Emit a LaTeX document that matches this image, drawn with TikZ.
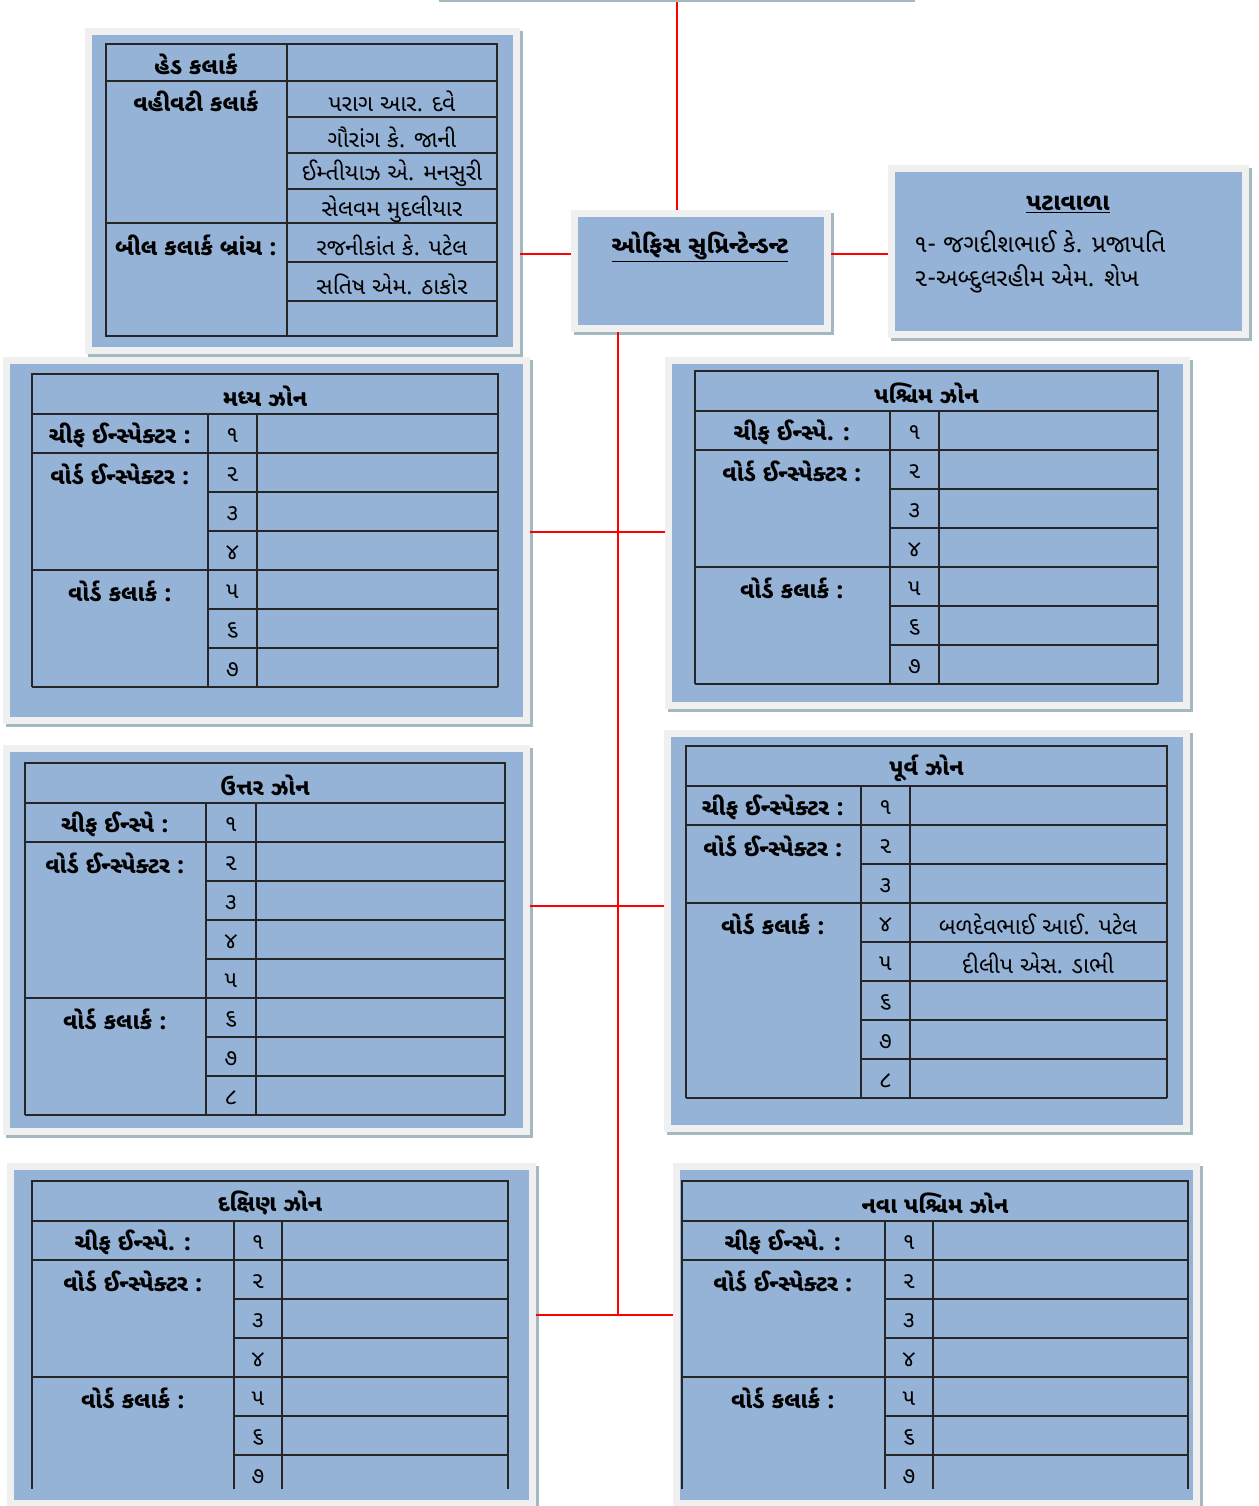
\documentclass[tikz,border=0pt]{standalone}
\usepackage{fontspec}
\setmainfont[Script=Gujarati]{Noto Sans Gujarati UI}
\usetikzlibrary{shadows,calc}
\definecolor{boxblue}{HTML}{95B3D7}
\definecolor{framegray}{HTML}{F0F0F0}
\definecolor{shadowc}{HTML}{A3B9BF}
\definecolor{tblc}{HTML}{262626}
\definecolor{redc}{HTML}{FF0000}
\tikzset{
  framebox/.style={draw=none, fill=framegray, inner sep=0pt, anchor=north west,
    general shadow={shadow xshift=3pt, shadow yshift=-3pt, fill=shadowc}},
  tbl/.style={draw=tblc, line width=1.4pt},
  redl/.style={draw=redc, line width=2.4pt},
  txt/.style={inner sep=1pt, yshift=-2pt},
  ttl/.style={txt, font=\bfseries\fontsize{23}{26}\selectfont},
  lbl/.style={txt, font=\bfseries\fontsize{23}{26}\selectfont},
  num/.style={txt, font=\fontsize{23}{26}\selectfont},
  nm/.style={txt, font=\fontsize{23}{26}\selectfont},
  bignm/.style={txt, font=\fontsize{24.5}{28}\selectfont},
  bigttl/.style={txt, font=\bfseries\fontsize{24}{28}\selectfont},
}
\newcommand\FBox[5]{%
  \node[framebox, minimum width=#4-#2, minimum height=#5-#3] (#1) at (#2,#3) {};
  \fill[boxblue] ($(#1.north west)+(7,7)$) rectangle ($(#1.south east)+(-7,-7)$);
}
\newcommand\ZoneGrid[9]{% prefix, x0, x1, x2, x3, ytop, nrows, vbottom, title
  \pgfmathsetmacro\zyh{#6+40}
  \draw[tbl] (#2,#8) -- (#2,#6) -- (#5,#6) -- (#5,#8);
  \draw[tbl] (#2,\zyh) -- (#5,\zyh);
  \draw[tbl] (#3,\zyh) -- (#3,#8);
  \draw[tbl] (#4,\zyh) -- (#4,#8);
  \pgfmathtruncatemacro\zn{#7-1}
  \foreach \i in {1,...,\zn}{\draw[tbl] (#3,{\zyh+39*\i}) -- (#5,{\zyh+39*\i});}
  \node[ttl] (#1-title) at ({(#2+#5)/2},{#6+20}) {#9};
  \foreach \d [count=\i] in {૧,૨,૩,૪,૫,૬,૭,૮}{%
    \ifnum\i>#7\relax\else
      \node[num] (#1-n\i) at ({(#3+#4)/2},{\zyh+39*(\i-0.5)}) {\d};
    \fi}
}
\begin{document}
\begin{tikzpicture}[x=1pt,y=-1pt]
\useasboundingbox (0,0) rectangle (1258,1506);

% partial top box
\node[fill=shadowc, draw=none, inner sep=0pt, minimum width=476, minimum height=30, anchor=south west] (topbox) at (439,2) {};

% boxes
\FBox{clerks}{85}{28}{520}{354}
\FBox{office}{571}{210}{831}{332}
\FBox{peon}{888}{165}{1249}{338}
\FBox{madhya}{3}{357}{530}{724}
\FBox{pashchim}{665}{357}{1190}{709}
\FBox{uttar}{3}{745}{530}{1135}
\FBox{purva}{664}{730}{1190}{1132}
\FBox{dakshin}{7}{1163}{536}{1507}
\FBox{nava}{673}{1163}{1200}{1507}

% clerks table
\draw[tbl] (106,44) rectangle (497,336);
\draw[tbl] (287,44) -- (287,336);
\draw[tbl] (106,81) -- (497,81);
\draw[tbl] (106,223) -- (497,223);
\foreach \yy in {117,153,189,262,301}{\draw[tbl] (287,\yy) -- (497,\yy);}
\node[lbl] (c-head) at (196,62) {હેડ કલાર્ક};
\node[lbl] (c-admin) at (196,99) {વહીવટી કલાર્ક};
\node[lbl] (c-bill) at (196,243) {બીલ કલાર્ક બ્રાંચ :};
\node[nm] (c-r1) at (392,99) {પરાગ આર. દવે};
\node[nm] (c-r2) at (392,135) {ગૌરાંગ કે. જાની};
\node[nm] (c-r3) at (392,171) {ઈમ્તીયાઝ એ. મનસુરી};
\node[nm] (c-r4) at (392,207) {સેલવમ મુદલીયાર};
\node[nm] (c-r5) at (392,243) {રજનીકાંત કે. પટેલ};
\node[nm] (c-r6) at (392,282) {સતિષ એમ. ઠાકોર};

% office
\node[bigttl] (office-t) at (700,245) {\underline{ઓફિસ સુપ્રિન્ટેન્ડન્ટ}};
% peon
\node[bigttl] (peon-t) at (1068,202) {\underline{પટાવાળા}};
\node[bignm, anchor=west] (peon-1) at (913,240) {૧- જગદીશભાઈ કે. પ્રજાપતિ};
\node[bignm, anchor=west] (peon-2) at (913,277) {૨-અબ્દુલરહીમ એમ. શેખ};

% Madhya
\ZoneGrid{m}{32}{208}{257}{498}{374}{7}{687}{મધ્ય ઝોન}
\draw[tbl] (32,687) -- (498,687);
\draw[tbl] (32,453) -- (208,453);
\draw[tbl] (32,570) -- (208,570);
\node[lbl] (m-l1) at (120,433.5) {ચીફ ઈન્સ્પેક્ટર :};
\node[lbl] (m-l2) at (120,472.5) {વોર્ડ ઈન્સ્પેક્ટર :};
\node[lbl] (m-l3) at (120,589.5) {વોર્ડ કલાર્ક :};

% Pashchim
\ZoneGrid{p}{695}{890}{939}{1158}{371}{7}{684}{પશ્ચિમ ઝોન}
\draw[tbl] (695,684) -- (1158,684);
\draw[tbl] (695,450) -- (890,450);
\draw[tbl] (695,567) -- (890,567);
\node[lbl] (p-l1) at (792,430.5) {ચીફ ઈન્સ્પે. :};
\node[lbl] (p-l2) at (792,469.5) {વોર્ડ ઈન્સ્પેક્ટર :};
\node[lbl] (p-l3) at (792,586.5) {વોર્ડ કલાર્ક :};

% Uttar
\ZoneGrid{u}{25}{206}{256}{505}{763}{8}{1115}{ઉત્તર ઝોન}
\draw[tbl] (25,1115) -- (505,1115);
\draw[tbl] (25,842) -- (206,842);
\draw[tbl] (25,998) -- (206,998);
\node[lbl] (u-l1) at (115,822.5) {ચીફ ઈન્સ્પે :};
\node[lbl] (u-l2) at (115,861.5) {વોર્ડ ઈન્સ્પેક્ટર :};
\node[lbl] (u-l3) at (115,1017.5) {વોર્ડ કલાર્ક :};

% Purva
\ZoneGrid{v}{686}{861}{910}{1167}{746}{8}{1098}{પૂર્વ ઝોન}
\draw[tbl] (686,1098) -- (1167,1098);
\draw[tbl] (686,825) -- (861,825);
\draw[tbl] (686,903) -- (861,903);
\node[lbl] (v-l1) at (773,805.5) {ચીફ ઈન્સ્પેક્ટર :};
\node[lbl] (v-l2) at (773,844.5) {વોર્ડ ઈન્સ્પેક્ટર :};
\node[lbl] (v-l3) at (773,922.5) {વોર્ડ કલાર્ક :};
\node[nm] (v-c4) at (1038,922.5) {બળદેવભાઈ આઈ. પટેલ};
\node[nm] (v-c5) at (1038,961.5) {દીલીપ એસ. ડાભી};

% Dakshin
\ZoneGrid{d}{32}{234}{282}{508}{1181}{7}{1489}{દક્ષિણ ઝોન}
\draw[tbl] (32,1260) -- (234,1260);
\draw[tbl] (32,1377) -- (234,1377);
\node[lbl] (d-l1) at (133,1240.5) {ચીફ ઈન્સ્પે. :};
\node[lbl] (d-l2) at (133,1279.5) {વોર્ડ ઈન્સ્પેક્ટર :};
\node[lbl] (d-l3) at (133,1396.5) {વોર્ડ કલાર્ક :};

% Nava Pashchim
\ZoneGrid{n}{682}{885}{933}{1188}{1181}{7}{1489}{નવા પશ્ચિમ ઝોન}
\draw[tbl] (682,1260) -- (885,1260);
\draw[tbl] (682,1377) -- (885,1377);
\node[lbl] (n-l1) at (783,1240.5) {ચીફ ઈન્સ્પે. :};
\node[lbl] (n-l2) at (783,1279.5) {વોર્ડ ઈન્સ્પેક્ટર :};
\node[lbl] (n-l3) at (783,1396.5) {વોર્ડ કલાર્ક :};

% connectors
\coordinate (tx) at (677,0);
\coordinate (sx) at (618,0);
\coordinate (y254) at (0,254);
\coordinate (y532) at (0,532);
\coordinate (y906) at (0,906);
\coordinate (y1315) at (0,1315);
\draw[redl] (tx |- topbox.south) -- (tx |- office.north);
\draw[redl] (clerks.east |- y254) -- (office.west |- y254);
\draw[redl] (office.east |- y254) -- (peon.west |- y254);
\draw[redl] (sx |- office.south) -- (sx |- y1315);
\draw[redl] (madhya.east |- y532) -- (pashchim.west |- y532);
\draw[redl] (uttar.east |- y906) -- (purva.west |- y906);
\draw[redl] (dakshin.east |- y1315) -- (nava.west |- y1315);
\end{tikzpicture}
\end{document}
